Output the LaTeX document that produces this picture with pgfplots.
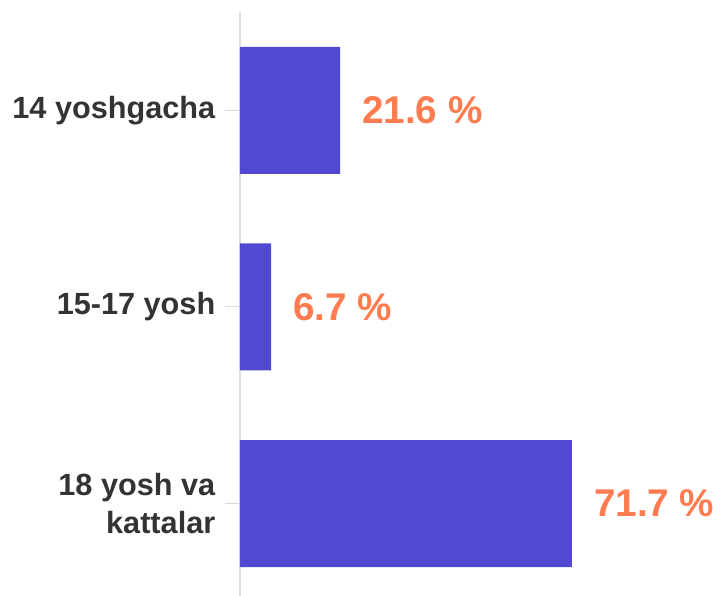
\documentclass[border=0pt]{standalone}
\usepackage{pgfplots}
\pgfplotsset{compat=1.18}
\usepackage{fontspec}
\setmainfont{Liberation Sans}
\definecolor{barblue}{HTML}{5249D3}
\definecolor{valorange}{HTML}{FF7B50}
\definecolor{labelgray}{HTML}{333333}
\begin{document}
\begin{tikzpicture}
\begin{axis}[
  xbar,
  scale only axis,
  width=357pt, height=438pt,
  xmin=0, xmax=102.8,
  ymin=-0.5, ymax=2.47,
  y dir=reverse,
  bar width=0.646,
  axis x line=none,
  axis y line*=left,
  y axis line style={draw=gray!25, line width=1.5pt, -},
  ytick={0,1,2},
  yticklabels={14 yoshgacha, 15-17 yosh, {18 yosh va\\kattalar}},
  yticklabel style={align=right, xshift=-4pt, font=\bfseries\fontsize{23}{29}\selectfont, text=labelgray},
  tick align=outside,
  major tick length=11pt,
  tick style={draw=gray!30, line width=0.75pt},
  nodes near coords={\pgfmathprintnumber[assume math mode=true,fixed,precision=1,fixed zerofill]{\pgfplotspointmeta} \%},
  every node near coord/.append style={anchor=west, xshift=13pt, text=valorange,
    font=\bfseries\fontsize{29}{33}\selectfont},
  clip=false,
]
\addplot[fill=barblue, draw=none] coordinates {(21.6,0) (6.7,1) (71.7,2)};
\end{axis}
\pgfresetboundingbox
\path ([xshift=-180pt]current axis.south west) rectangle ([xshift=4.5pt,yshift=9pt]current axis.north east);
\end{tikzpicture}
\end{document}
